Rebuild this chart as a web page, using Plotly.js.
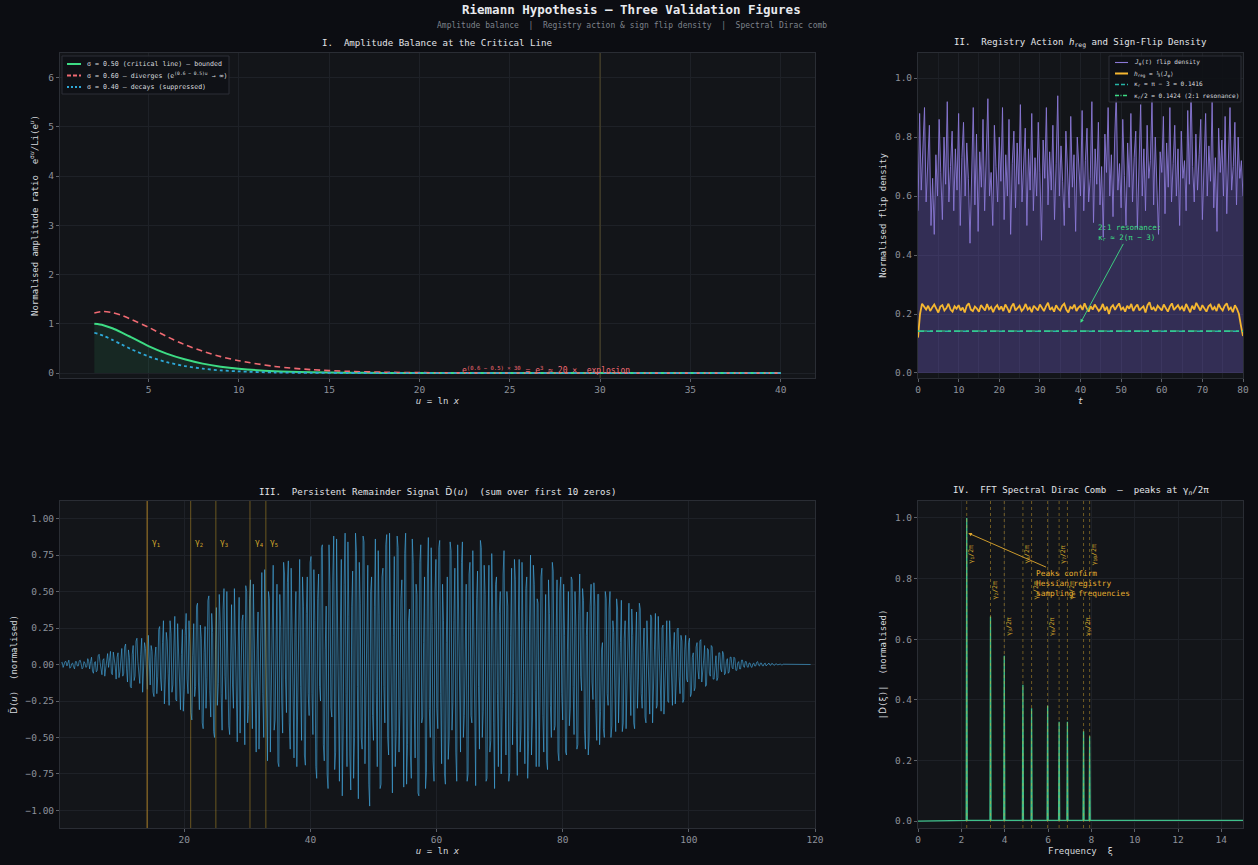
<!DOCTYPE html>
<html><head><meta charset="utf-8">
<script src="https://cdn.plot.ly/plotly-3.0.1.min.js"></script>
<style>html,body{margin:0;padding:0;background:#0c0d12;}#chart{width:1258px;height:865px;}</style>
</head><body><div id="chart"></div>
<script>
// ---------- Panel I data ----------
const uGrid = [2,2.5,3,3.5,4,5,6,7,8,9,10,12,14,16,18,20,22,25,30,35,40];
const ampCritical = [1.000,0.973,0.910,0.827,0.736,0.548,0.396,0.280,0.192,0.130,0.088,0.038,0.016,0.007,0.003,0.001,0.0005,0.0001,0,0,0];
const ampDiverge  = [1.221,1.250,1.228,1.173,1.098,0.930,0.745,0.578,0.443,0.334,0.252,0.134,0.070,0.036,0.018,0.009,0.0045,0.0015,0.0002,0,0];
const ampDecay    = [0.819,0.758,0.674,0.583,0.493,0.338,0.223,0.143,0.090,0.055,0.034,0.012,0.004,0.0015,0.0005,0.0002,0,0,0,0,0];
const explosionU = 30;
const legend1Labels = ['σ = 0.50 (critical line) — bounded', 'σ = 0.60 — diverges (e<sup>(0.6 − 0.5)u</sup> → ∞)', 'σ = 0.40 — decays (suppressed)'];

// ---------- Panel II data ----------
const flipT0 = 0, flipDt = 0.4;
const flipDensity = [
0.55,0.88,0.62,0.78,0.9,0.58,0.72,0.84,0.5,0.66,
0.47,0.74,0.6,0.86,0.68,0.52,0.8,0.64,0.92,0.58,
0.7,0.82,0.55,0.76,0.62,0.88,0.5,0.73,0.85,0.6,
0.78,0.66,0.44,0.7,0.9,0.57,0.81,0.48,0.75,0.63,
0.86,0.55,0.72,0.93,0.6,0.68,0.5,0.84,0.7,0.58,
0.8,0.65,0.9,0.52,0.74,0.6,0.86,0.47,0.71,0.82,
0.56,0.78,0.64,0.91,0.58,0.7,0.83,0.5,0.76,0.62,
0.88,0.55,0.73,0.6,0.85,0.68,0.45,0.79,0.66,0.9,
0.57,0.75,0.62,0.84,0.52,0.71,0.94,0.6,0.77,0.65,
0.5,0.82,0.68,0.56,0.87,0.63,0.74,0.48,0.8,0.7,
0.6,0.89,0.55,0.72,0.83,0.58,0.66,0.92,0.51,0.76,
0.64,0.85,0.57,0.7,0.46,0.81,0.68,0.9,0.6,0.74,
0.53,0.79,0.95,0.62,0.71,0.56,0.86,0.67,0.5,0.78,
0.63,0.88,0.58,0.73,0.82,0.49,0.69,0.91,0.6,0.76,
0.55,0.84,0.66,0.72,0.93,0.57,0.8,0.62,0.47,0.75,
0.68,0.87,0.54,0.78,0.63,0.9,0.58,0.71,0.84,0.6,
0.76,0.5,0.82,0.66,0.72,0.55,0.89,0.64,0.97,0.7,
0.58,0.81,0.62,0.74,0.86,0.52,0.7,0.88,0.6,0.77,
0.65,0.92,0.56,0.73,0.48,0.83,0.68,0.79,0.6,0.87,
0.54,0.75,0.9,0.62,0.7,0.85,0.57,0.8,0.66,0.72,
0.6];
const hregT0 = 0, hregDt = 0.5;
const hReg = [
0.12,0.2,0.235,0.225,0.215,0.228,0.21,0.222,0.232,0.218,
0.205,0.225,0.23,0.212,0.22,0.235,0.215,0.208,0.226,0.218,
0.23,0.212,0.222,0.205,0.228,0.236,0.215,0.21,0.225,0.218,
0.208,0.23,0.22,0.212,0.234,0.216,0.224,0.206,0.222,0.23,
0.214,0.226,0.21,0.232,0.22,0.205,0.225,0.236,0.212,0.22,
0.228,0.21,0.218,0.234,0.215,0.222,0.206,0.228,0.219,0.212,
0.232,0.22,0.21,0.226,0.238,0.214,0.222,0.208,0.23,0.218,
0.212,0.228,0.235,0.215,0.205,0.224,0.219,0.232,0.21,0.222,
0.228,0.214,0.236,0.22,0.208,0.226,0.215,0.232,0.222,0.21,
0.218,0.234,0.212,0.225,0.2,0.222,0.23,0.214,0.226,0.236,
0.215,0.222,0.208,0.228,0.218,0.234,0.21,0.224,0.232,0.212,
0.22,0.226,0.205,0.23,0.24,0.215,0.222,0.21,0.228,0.218,
0.212,0.232,0.22,0.208,0.226,0.236,0.214,0.222,0.23,0.216,
0.225,0.21,0.234,0.22,0.206,0.228,0.215,0.238,0.222,0.212,
0.23,0.218,0.208,0.226,0.232,0.214,0.224,0.21,0.234,0.22,
0.212,0.228,0.236,0.215,0.222,0.206,0.23,0.218,0.2,0.16,
0.125];
const kappaR = 0.1416;
const kappaHalf = 0.1424;
const tRange = [0, 80];
const legend2Labels = ['<i>J</i><sub>φ</sub>(<i>t</i>) flip density', '<i>h</i><sub>reg</sub> = ⅓⟨<i>J</i><sub>φ</sub>⟩', 'κ<sub>r</sub> = π − 3 = 0.1416', 'κ<sub>r</sub>/2 = 0.1424 (2:1 resonance)'];

// ---------- Panel III data (samples on the grid u = 0.5, 0.8, 1.1, ...) ----------
const sigU0 = 0.5, sigDu = 0.3;
const remainderOnGrid = [
0.01,-0.02,0.02,-0.01,0.03,-0.02,0.01,-0.03,0.02,-0.01,0.03,-0.03,0.02,-0.02,0.04,
-0.03,0.05,-0.06,0.02,-0.04,0.07,-0.05,0.03,-0.08,0.06,-0.02,0.09,-0.07,0.04,-0.1,0.08,-0.05,
0.11,-0.06,0.14,-0.12,0.05,-0.16,0.13,-0.08,0.18,-0.1,0.07,-0.19,0.15,-0.04,0.2,-0.14,0.09,
-0.22,0.12,-0.08,0.26,-0.18,0.3,-0.1,0.16,-0.28,0.21,-0.14,0.33,-0.25,0.09,-0.31,0.24,-0.17,
0.35,-0.2,0.12,-0.38,0.28,-0.15,0.42,-0.31,0.18,-0.44,0.26,-0.09,0.47,-0.36,0.22,-0.5,0.39,-0.13,0.3,-0.45,0.52,-0.24,0.16,-0.48,0.41,-0.3,0.2,-0.53,0.46,-0.18,0.34,-0.55,0.5,
-0.28,0.58,-0.44,0.2,-0.6,0.36,-0.15,0.63,-0.5,0.3,-0.66,0.45,-0.22,0.68,-0.38,0.55,-0.7,0.26,-0.47,0.62,-0.33,0.71,-0.58,0.18,-0.64,0.5,-0.27,0.72,-0.52,0.4,-0.69,0.6,-0.35,
0.74,-0.48,0.3,-0.78,0.62,-0.25,0.82,-0.66,0.4,-0.85,0.55,-0.36,0.88,-0.6,0.2,-0.8,0.72,-0.45,0.9,-0.7,0.33,-0.86,0.64,-0.5,0.78,-0.92,0.42,-0.58,0.84,-0.3,0.68,-0.97,0.6,
-0.52,0.86,-0.7,0.34,-0.82,0.66,-0.4,0.89,-0.62,0.25,-0.88,0.74,-0.46,0.8,-0.3,0.58,-0.84,0.9,-0.55,0.38,-0.78,0.7,-0.64,0.48,-0.9,0.82,-0.36,0.6,-0.74,0.87,-0.5,0.28,-0.8,
0.72,-0.44,0.85,-0.68,0.3,-0.82,0.6,-0.5,0.78,-0.26,0.66,-0.8,0.42,-0.6,0.84,-0.35,0.55,-0.75,0.7,-0.4,0.22,-0.83,0.64,-0.58,0.8,-0.32,0.48,-0.78,0.68,-0.52,0.36,-0.85,0.6,
-0.7,0.5,-0.3,0.78,-0.62,0.4,-0.74,0.66,-0.2,0.58,-0.76,0.72,-0.45,0.3,-0.68,0.6,-0.52,0.75,-0.38,0.55,-0.7,0.42,-0.25,0.66,-0.6,0.48,-0.72,0.35,-0.5,0.64,-0.42,0.58,-0.66,
0.6,-0.38,0.2,-0.62,0.5,-0.3,0.58,-0.48,0.26,-0.55,0.62,-0.18,0.44,-0.58,0.36,-0.5,0.55,-0.24,0.4,-0.52,0.48,-0.32,0.15,-0.5,0.45,-0.28,0.5,-0.42,0.22,-0.46,0.38,-0.2,0.44,
-0.4,0.3,-0.14,0.42,-0.35,0.2,-0.44,0.36,-0.1,0.38,-0.3,0.25,-0.4,0.12,-0.34,0.32,-0.22,0.35,-0.28,0.1,-0.32,0.27,-0.18,0.3,-0.26,0.14,-0.28,0.22,-0.12,0.25,-0.2,0.16,-0.24,
0.2,-0.12,0.18,-0.2,0.08,-0.16,0.15,-0.1,0.17,-0.06,0.13,-0.14,0.1,-0.08,0.12,-0.1,0.06,-0.09,0.08,-0.05,0.07,-0.06,0.04,-0.05,0.05,-0.03,0.04,-0.04,0.02,-0.03,0.03,-0.02,0.02,
-0.02,0.01,-0.02,0.01,-0.01,0.02,-0.01,0.01,-0.01,0.01,-0.005,0.01,-0.005,0.005,-0.005,0.005,0,0.003,-0.003,0.002,-0.002,0.001,0,0,0,0,0,0,0,0,0,0,0,0];
// samples halfway between grid points (u = 0.65, 0.95, ...)
const remainderMidGrid = [
0.015,-0.005,0.02,0.01,-0.025,0.005,-0.015,0.02,-0.01,0.025,0.005,-0.02,0.01,-0.015,0.02,
0.02,-0.045,0.01,-0.05,0.06,0.015,-0.07,0.04,-0.02,0.075,0.03,-0.06,0.085,-0.01,0.05,-0.09,0.02,
-0.08,0.12,-0.03,0.1,-0.15,0.07,-0.11,0.16,0.02,-0.13,0.18,-0.06,0.11,-0.17,0.04,0.13,-0.19,
0.05,-0.2,0.24,-0.1,0.15,-0.27,0.22,-0.06,0.3,-0.19,0.12,-0.24,0.28,-0.14,0.07,-0.32,0.2,
-0.1,0.3,-0.33,0.06,-0.22,0.4,-0.12,0.27,-0.4,0.08,-0.3,0.44,-0.18,0.35,-0.46,0.1,-0.28,0.48,-0.2,0.38,-0.08,0.5,-0.42,0.25,-0.14,0.52,-0.36,0.12,-0.47,0.3,-0.05,0.54,-0.4,
0.45,-0.12,0.55,-0.38,0.1,-0.58,0.42,-0.2,0.65,-0.08,0.5,-0.6,0.3,-0.45,0.14,-0.67,0.48,-0.25,0.7,-0.1,0.56,-0.4,0.66,-0.3,0.22,-0.7,0.44,-0.15,0.6,-0.62,0.35,-0.2,0.7,
-0.2,0.65,-0.7,0.45,-0.15,0.8,-0.55,0.1,-0.75,0.82,-0.3,0.6,-0.72,0.86,-0.4,0.25,-0.9,0.55,-0.2,0.84,-0.62,0.4,-0.78,0.9,-0.15,0.7,-0.5,0.88,-0.68,0.18,-0.82,0.5,-0.35,
0.4,-0.2,0.78,-0.85,0.6,-0.15,0.82,-0.5,0.9,-0.35,0.2,-0.7,0.88,-0.6,0.45,-0.1,0.76,-0.82,0.3,-0.62,0.86,-0.25,0.55,-0.88,0.7,-0.4,0.15,-0.85,0.62,-0.3,0.8,-0.66,0.5,
-0.3,0.8,-0.2,0.55,-0.75,0.15,-0.65,0.84,-0.45,0.3,-0.6,0.82,-0.25,0.7,-0.5,0.1,-0.8,0.62,-0.35,0.78,-0.68,0.45,-0.15,0.85,-0.5,0.68,-0.8,0.22,-0.6,0.76,-0.4,0.55,-0.2,
0.35,-0.75,0.62,-0.1,0.5,-0.8,0.2,-0.55,0.72,-0.4,0.25,-0.6,0.7,-0.15,0.52,-0.78,0.3,-0.62,0.68,-0.18,0.45,-0.7,0.6,-0.35,0.14,-0.66,0.58,-0.28,0.7,-0.45,0.2,-0.6,0.5,
-0.2,0.55,-0.6,0.1,-0.42,0.6,-0.15,0.5,-0.58,0.35,-0.08,0.52,-0.45,0.2,-0.62,0.4,-0.12,0.56,-0.3,0.48,-0.55,0.1,-0.44,0.5,-0.2,0.38,-0.5,0.3,-0.12,0.45,-0.4,0.15,-0.46,
0.18,-0.44,0.3,-0.06,0.38,-0.4,0.12,-0.3,0.42,-0.2,0.08,-0.36,0.3,-0.15,0.34,-0.4,0.1,-0.3,0.33,-0.12,0.25,-0.34,0.05,-0.25,0.3,-0.2,0.1,-0.27,0.24,-0.08,0.2,-0.26,0.1,
-0.1,0.15,-0.22,0.05,-0.18,0.12,-0.04,0.16,-0.12,0.03,-0.15,0.11,-0.06,0.13,-0.1,0.02,-0.11,0.08,-0.03,0.09,-0.07,0.02,-0.06,0.05,-0.02,0.05,-0.04,0.01,-0.03,0.03,-0.01,0.02,-0.015,
0.01,-0.015,0.005,-0.01,0.015,-0.005,0.01,-0.008,0.005,-0.01,0.006,-0.004,0.008,-0.004,0.004,-0.003,0.002,-0.002,0.002,-0.001,0.001,0,0,0,0,0,0,0,0,0,0,0,0];
const zeroGammas = [14.13, 21.02, 25.01, 30.42, 32.94];
const zeroLabels = ['γ<sub>1</sub>','γ<sub>2</sub>','γ<sub>3</sub>','γ<sub>4</sub>','γ<sub>5</sub>'];

// ---------- Panel IV data ----------
const peakFreq   = [2.249, 3.346, 3.981, 4.842, 5.242, 5.983, 6.513, 6.896, 7.641, 7.922];
const peakHeight = [1.0, 0.675, 0.545, 0.45, 0.372, 0.38, 0.328, 0.328, 0.296, 0.28];
const peakLabels = ['γ<sub>1</sub>/2π','γ<sub>2</sub>/2π','γ<sub>3</sub>/2π','γ<sub>4</sub>/2π','γ<sub>5</sub>/2π','γ<sub>6</sub>/2π','γ<sub>7</sub>/2π','γ<sub>8</sub>/2π','γ<sub>9</sub>/2π','γ<sub>10</sub>/2π'];
const peakLabelLevel = [0.88,0.76,0.64,0.88,0.76,0.64,0.88,0.76,0.64,0.88];

// ---------- styling ----------
const MONO = 'DejaVu Sans Mono, monospace';
const C = {paper:'#0c0d12', plot:'#131519', grid:'#1e2127', line:'#2a2d34',
  tick:'#8c919a', text:'#d6d9de', green:'#3ddc84', red:'#f06a72', blue:'#2ea8d8',
  purple:'#8a78d6', orange:'#f5b731', teal:'#26b5a6', gold:'#d4a72c', sig:'#45ade6', spec:'#3fbf8a'};
const DT = '<span style="font-family:DejaVu Sans">D̃</span>';
const DH = '<span style="font-family:DejaVu Sans">D̂</span>';
const W=1258, H=865;
function px(x){return x/W;} function py(y){return 1-y/H;}

function ax(extra){
  return Object.assign({gridcolor:C.grid, gridwidth:1, zeroline:false, showline:true, mirror:true,
    linecolor:C.line, linewidth:1, ticks:'outside', ticklen:3, tickcolor:'#5c6068',
    tickfont:{family:MONO, size:9.5, color:C.tick}}, extra);
}
function axTitle(t, standoff){ return {text:t, font:{family:MONO, size:9, color:C.text}, standoff:standoff}; }

const line1 = {color:C.green, width:2, shape:'spline', smoothing:0.8};
const line2 = {color:C.red, width:1.6, dash:'6px,4px', shape:'spline', smoothing:0.8};
const line3 = {color:C.blue, width:1.8, dash:'dot', shape:'spline', smoothing:0.8};
const lineFlip = {color:C.purple, width:0.9};
const lineH = {color:C.orange, width:1.8};
const lineK1 = {color:C.teal, width:1.3, dash:'6px,3px'};
const lineK2 = {color:C.green, width:1.1, dash:'dashdot'};

const traces = [];
// Panel I
traces.push({x:uGrid, y:ampCritical, xaxis:'x', yaxis:'y', type:'scatter', mode:'lines', fill:'tozeroy',
  fillcolor:'rgba(61,220,132,0.10)', line:{width:0, shape:'spline', smoothing:0.8}, hoverinfo:'skip'});
traces.push({x:uGrid, y:ampCritical, xaxis:'x', yaxis:'y', type:'scatter', mode:'lines', line:line1});
traces.push({x:uGrid, y:ampDiverge, xaxis:'x', yaxis:'y', type:'scatter', mode:'lines', line:line2});
traces.push({x:uGrid, y:ampDecay, xaxis:'x', yaxis:'y', type:'scatter', mode:'lines', line:line3});

// Panel II
traces.push({x0:flipT0, dx:flipDt, y:flipDensity, xaxis:'x2', yaxis:'y2', type:'scatter', mode:'lines', fill:'tozeroy',
  fillcolor:'rgba(120,100,215,0.32)', line:{width:0}, hoverinfo:'skip'});
traces.push({x0:flipT0, dx:flipDt, y:flipDensity, xaxis:'x2', yaxis:'y2', type:'scatter', mode:'lines', line:lineFlip});
traces.push({x0:hregT0, dx:hregDt, y:hReg, xaxis:'x2', yaxis:'y2', type:'scatter', mode:'lines', line:lineH});
traces.push({x:tRange, y:[kappaR,kappaR], xaxis:'x2', yaxis:'y2', type:'scatter', mode:'lines', line:lineK1});
traces.push({x:tRange, y:[kappaHalf,kappaHalf], xaxis:'x2', yaxis:'y2', type:'scatter', mode:'lines', line:lineK2});

// Panel III: interleave the two sample sets into one series
const remainder = [];
remainderOnGrid.forEach((v,i)=>{ remainder.push(v); if (i < remainderMidGrid.length) remainder.push(remainderMidGrid[i]); });
traces.push({x0:sigU0, dx:sigDu/2, y:remainder, xaxis:'x3', yaxis:'y3', type:'scatter', mode:'lines',
  line:{color:C.sig, width:0.6}});

// Panel IV
const specX=[0], specY=[0];
peakFreq.forEach((f,i)=>{ specX.push(f-0.025, f, f+0.025); specY.push(0.002, peakHeight[i], 0.002); });
specX.push(15); specY.push(0.002);
traces.push({x:specX, y:specY, xaxis:'x4', yaxis:'y4', type:'scatter', mode:'lines',
  line:{color:C.spec, width:1.3}});

// shapes
const shapes = [];
shapes.push({type:'line', xref:'x', yref:'y domain', x0:explosionU, x1:explosionU, y0:0, y1:1,
  line:{color:'rgba(190,160,50,0.35)', width:1}});
zeroGammas.forEach((g,i)=>shapes.push({type:'line', xref:'x3', yref:'y3 domain', x0:g, x1:g, y0:0, y1:1,
  line:{color: i===0 ? 'rgba(160,120,40,0.7)' : 'rgba(212,167,44,0.45)', width: i===0 ? 1.6 : 1}}));
peakFreq.forEach(f=>shapes.push({type:'line', xref:'x4', yref:'y4 domain', x0:f, x1:f, y0:0, y1:1,
  line:{color:'rgba(212,167,44,0.6)', width:0.8, dash:'3px,3px'}}));

// annotations
const ann = [];
function paperText(x, y, text, font){
  return {xref:'paper', yref:'paper', x:px(x), y:py(y), xanchor:'center', yanchor:'middle', text:text, showarrow:false, font:font};
}
ann.push(paperText(632, 10, '<b>Riemann Hypothesis — Three Validation Figures</b>', {family:MONO, size:12.5, color:'#e8eaee'}));
ann.push(paperText(632, 25, 'Amplitude balance  |  Registry action & sign flip density  |  Spectral Dirac comb', {family:MONO, size:8, color:'#7d828b'}));
const titleFont = {family:MONO, size:9.1, color:'#e2e4e8'};
ann.push(paperText(437, 43, 'I.  Amplitude Balance at the Critical Line', titleFont));
ann.push(paperText(1080, 43, 'II.  Registry Action <i>h</i><sub>reg</sub> and Sign-Flip Density', titleFont));
ann.push(paperText(437, 491, 'III.  Persistent Remainder Signal ' + DT + '(<i>u</i>)  (sum over first 10 zeros)', titleFont));
ann.push(paperText(1081, 491, 'IV.  FFT Spectral Dirac Comb  —  peaks at γ<sub><i>n</i></sub>/2π', titleFont));

ann.push({xref:'x', yref:'y', x:27, y:0.07, text:'e<sup>(0.6 − 0.5) × 30</sup> = e<sup>3</sup> ≈ 20 ×  explosion', showarrow:false,
  font:{family:MONO, size:8, color:C.red}});

ann.push({xref:'x2', yref:'y2', x:40, y:0.17, axref:'x2', ayref:'y2', ax:52, ay:0.475,
  text:'2:1 resonance:<br>κ<sub>r</sub> ≈ 2(π − 3)', showarrow:true, arrowhead:2, arrowsize:0.8, arrowwidth:0.9, arrowcolor:C.green,
  align:'left', font:{family:MONO, size:7.5, color:C.green}});

zeroGammas.forEach((g,i)=>ann.push({xref:'x3', yref:'y3', x:g+0.4, y:0.83, xanchor:'left', text:zeroLabels[i], showarrow:false,
  font:{family:MONO, size:8, color:C.gold}}));

peakFreq.forEach((f,i)=>ann.push({xref:'x4', yref:'y4', x:f+0.2, y:peakLabelLevel[i], text:peakLabels[i], textangle:-90, showarrow:false,
  font:{family:MONO, size:6.5, color:C.gold}}));

ann.push({xref:'x4', yref:'y4', x:2.32, y:0.95, axref:'x4', ayref:'y4', ax:7.6, ay:0.785,
  text:'Peaks confirm<br>Hessian registry<br>sampling frequencies', showarrow:true, arrowhead:2, arrowsize:0.8, arrowwidth:0.9,
  arrowcolor:'#e0a82e', align:'left', font:{family:MONO, size:7.8, color:'#e6ad2f'}});

// compact legends (drawn in paper space)
function addLegend(box, rows, lineX0, lineX1, textX, labels, styles, fsize){
  shapes.push({type:'rect', xref:'paper', yref:'paper', x0:px(box[0]), x1:px(box[1]), y0:py(box[3]), y1:py(box[2]),
    fillcolor:'rgba(15,17,22,0.88)', line:{color:'#2c2f37', width:1}, layer:'above'});
  labels.forEach((lab,i)=>{
    const st = styles[i];
    shapes.push({type:'line', xref:'paper', yref:'paper', x0:px(lineX0), x1:px(lineX1), y0:py(rows[i]), y1:py(rows[i]),
      line:{color:st.color, width:Math.min(st.width+0.2,2), dash:st.dash||'solid'}, layer:'above'});
    ann.push({xref:'paper', yref:'paper', x:px(textX), y:py(rows[i]), xanchor:'left', yanchor:'middle', text:lab, showarrow:false,
      font:{family:MONO, size:fsize, color:C.text}});
  });
}
addLegend([62,229,56,94], [64,75.5,87], 67, 81, 85, legend1Labels,
  [line1, {color:C.red, width:1.6, dash:'4px,2px'}, {color:C.blue, width:1.8, dash:'2px,2px'}], 6.6);
addLegend([1109,1241,56,102], [62.5,73.5,84.5,95.5], 1115, 1128, 1132, legend2Labels,
  [lineFlip, lineH, {color:C.teal, width:1.3, dash:'4px,2px'}, {color:C.green, width:1.1, dash:'4px,1.5px,1px,1.5px'}], 6.1);

const layout = {
  width:W, height:H, paper_bgcolor:C.paper, plot_bgcolor:C.plot,
  margin:{l:0, r:0, t:0, b:0}, showlegend:false,
  xaxis: ax({domain:[px(60), px(815)], anchor:'y', range:[0.1, 41.9], dtick:5, tick0:0,
    title:axTitle('<i>u</i> = ln <i>x</i>', 3)}),
  yaxis: ax({domain:[py(378), py(53)], anchor:'x', range:[-0.1, 6.5], dtick:1,
    title:axTitle('Normalised amplitude ratio  e<sup>σ<i>u</i></sup>/Li(e<sup><i>u</i></sup>)', 8)}),
  xaxis2: ax({domain:[px(918), px(1243)], anchor:'y2', range:[0, 80], dtick:10,
    minor:{dtick:5, showgrid:true, gridcolor:'#1c1f25'}, title:axTitle('<i>t</i>', 3)}),
  yaxis2: ax({domain:[py(378), py(53)], anchor:'x2', range:[-0.017, 1.085], dtick:0.2, tickformat:'.1f',
    title:axTitle('Normalised flip density', 6)}),
  xaxis3: ax({domain:[px(60), px(815)], anchor:'y3', range:[0.3, 120], dtick:20,
    title:axTitle('<i>u</i> = ln <i>x</i>', 3)}),
  yaxis3: ax({domain:[py(828), py(501)], anchor:'x3', range:[-1.12, 1.12], dtick:0.25, tick0:0, tickformat:'.2f',
    title:axTitle(DT + '(<i>u</i>)  (normalised)', 6)}),
  xaxis4: ax({domain:[px(918), px(1243)], anchor:'y4', range:[0, 15], dtick:2,
    title:axTitle('Frequency  ξ', 3)}),
  yaxis4: ax({domain:[py(828), py(501)], anchor:'x4', range:[-0.023, 1.056], dtick:0.2, tickformat:'.1f',
    title:axTitle('|' + DH + '(ξ)|  (normalised)', 6)}),
  shapes:shapes, annotations:ann
};

Plotly.newPlot('chart', traces, layout, {staticPlot:true, displayModeBar:false});
</script>
</body></html>
